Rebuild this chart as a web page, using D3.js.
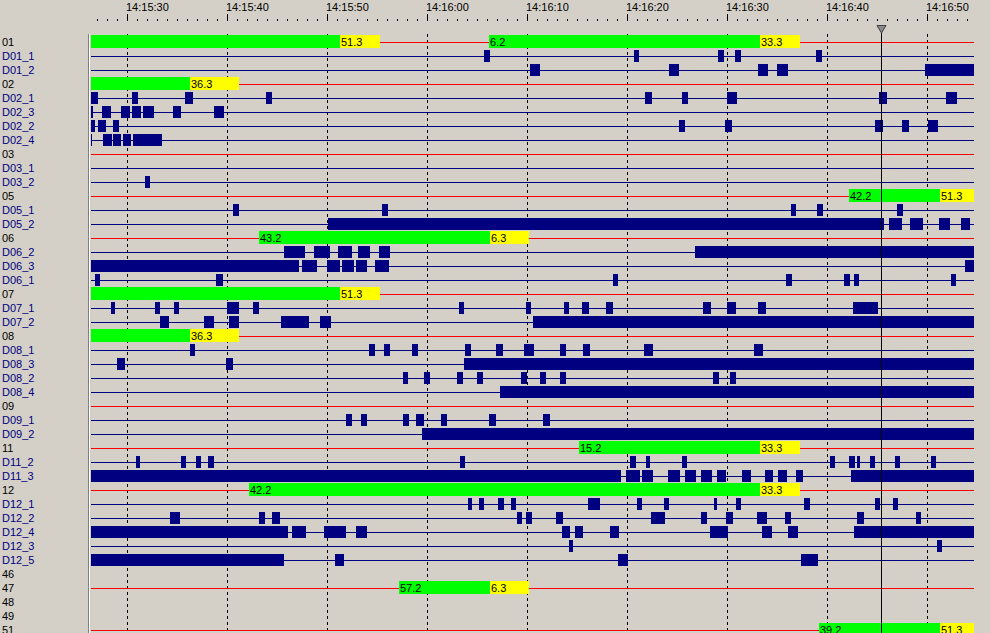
<!DOCTYPE html>
<meta charset="utf-8">
<script src="https://d3js.org/d3.v7.min.js"></script>
<style type="text/css">
body { margin: 0; background: #d4d0c8; }
svg { display: block; font-family: "Liberation Sans", Arial, sans-serif; font-size: 11px; }
.axis path { display: none; }
.axis line { stroke: #000; shape-rendering: crispEdges; }
.axis text { fill: #000; font-size: 11px; font-family: "Liberation Sans", Arial, sans-serif; }
.grid line { stroke: #000; stroke-dasharray: 3,3; shape-rendering: crispEdges; }
.rowline { shape-rendering: crispEdges; }
rect { shape-rendering: crispEdges; }
</style>
<body></body>
<script>

// rows, top to bottom
var rows = ['01','D01_1','D01_2','02','D02_1','D02_3','D02_2','D02_4','03','D03_1','D03_2',
  '05','D05_1','D05_2','06','D06_2','D06_3','D06_1','07','D07_1','D07_2',
  '08','D08_1','D08_3','D08_2','D08_4','09','D09_1','D09_2','11','D11_2','D11_3',
  '12','D12_1','D12_2','D12_4','D12_3','D12_5','46','47','48','49','51'];
var unusedRows = ['46','48','49'];

// seconds after 14:15:00
var viewStart = 26.4, viewEnd = 114.7, cursorAt = 105.4;

// group bars: [green start, yellow start, yellow end]
var g01 = [[20, 51.3, 55.3], [66.2, 93.3, 97.3]];
var g02 = [[20, 36.3, 41.2]];
var g05 = [[102.2, 111.3, 116]];
var g06 = [[43.2, 66.3, 70.2]];
var g07 = [[20, 51.3, 55.3]];
var g08 = [[20, 36.3, 41.2]];
var g11 = [[75.2, 93.3, 97.3]];
var g12 = [[42.2, 93.3, 97.3]];
var g47 = [[57.2, 66.3, 70.2]];
var g51 = [[99.2, 111.3, 116]];

// signal blocks: [start, end]
var D01_1 = [[65.7,66.3],[80.7,81.2],[89.1,89.7],[90.8,91.4],[98.9,99.5]];
var D01_2 = [[70.3,71.3],[84.2,85.2],[93.1,94.1],[95.0,96.1],[109.8,116]];
var D02_1 = [[26.4,27.1],[30.5,31.1],[35.8,36.6],[43.9,44.5],[81.8,82.5],[85.5,86.1],[90.0,91.0],[105.2,106.0],[111.9,113.0]];
var D02_3 = [[26.4,26.6],[27.5,28.4],[29.4,30.3],[30.5,31.4],[31.6,32.7],[34.6,35.4],[38.7,39.7]];
var D02_2 = [[26.4,26.8],[27.1,27.9],[28.6,29.2],[85.2,85.8],[89.8,90.5],[104.8,105.6],[107.5,108.2],[110.1,111.1]];
var D02_4 = [[26.4,26.5],[27.6,28.5],[28.6,29.4],[29.6,30.4],[30.6,33.5]];
var D03_1 = [];
var D03_2 = [[31.8,32.3]];
var D05_1 = [[40.6,41.2],[55.5,56.1],[96.4,96.9],[99.0,99.6],[107.0,107.6]];
var D05_2 = [[50.1,105.7],[106.2,107.5],[108.3,109.6],[111.2,112.3],[113.4,114.3]];
var D06_2 = [[45.7,47.8],[48.7,50.3],[51.1,52.5],[53.1,54.3],[55.2,56.3],[86.8,116]];
var D06_3 = [[20,47.2],[47.5,49.0],[50.0,51.3],[51.5,52.7],[52.9,54.0],[54.8,56.2],[113.8,116]];
var D06_1 = [[26.8,27.3],[38.9,39.6],[78.6,79.1],[95.9,96.5],[101.7,102.3],[102.7,103.2],[112.4,112.9]];
var D07_1 = [[28.4,28.8],[32.8,33.3],[34.7,35.2],[40.0,41.2],[42.6,43.2],[63.2,63.7],[69.9,70.4],[73.7,74.2],
  [75.5,76.2],[77.9,78.6],[87.6,88.4],[90.0,90.9],[93.1,93.9],[102.6,105.1]];
var D07_2 = [[33.3,34.2],[37.7,38.7],[40.2,41.2],[45.4,48.2],[49.3,50.4],[70.6,116]];
var D08_1 = [[36.3,36.8],[54.2,54.8],[55.7,56.3],[58.5,59.1],[63.8,64.4],[66.9,67.6],[69.7,70.7],[73.3,73.9],
  [75.6,76.3],[81.7,82.6],[92.7,93.6]];
var D08_3 = [[29.0,29.8],[39.9,40.6],[63.7,116]];
var D08_2 = [[57.6,58.1],[59.7,60.3],[63.0,63.6],[65.0,65.6],[69.4,70.0],[71.3,71.9],[73.3,73.9],[88.6,89.2],[90.3,90.9]];
var D08_4 = [[67.3,116]];
var D09_1 = [[51.9,52.5],[53.4,54.0],[57.6,58.2],[58.9,59.7],[61.4,62.0],[66.2,66.9],[71.6,72.3]];
var D09_2 = [[59.5,116]];
var D11_2 = [[30.9,31.3],[35.4,35.9],[36.9,37.4],[38.1,38.7],[63.3,63.8],[80.3,80.9],[81.9,82.3],[85.5,86.0],
  [100.3,100.8],[102.2,102.8],[103.0,103.3],[104.3,104.8],[106.8,107.3],[110.4,110.9]];
var D11_3 = [[20,79.4],[79.9,81.3],[81.5,82.6],[84.1,85.3],[85.8,86.9],[87.4,88.5],[89.0,89.9],[91.5,92.4],
  [93.8,94.6],[95.1,96.0],[96.9,97.6],[102.4,116]];
var D12_1 = [[64.1,64.5],[65.2,65.7],[67.1,67.7],[68.4,68.9],[76.1,77.3],[81.0,81.5],[83.7,84.2],[88.7,89.0],
  [90.9,91.4],[97.7,98.3],[104.8,105.3],[106.6,107.1]];
var D12_2 = [[34.3,35.3],[43.2,43.8],[44.5,45.3],[69.0,69.5],[69.9,70.5],[72.9,73.6],[82.4,83.8],[87.4,88.0],
  [89.9,90.6],[93.0,94.0],[95.8,96.4],[103.0,103.7],[108.9,109.4]];
var D12_4 = [[20,46.1],[46.5,47.9],[49.7,51.9],[52.9,54.0],[73.5,74.3],[74.8,75.6],[78.3,79.2],[88.3,90.1],
  [93.5,94.5],[96.1,97.1],[102.7,116]];
var D12_3 = [[74.2,74.6],[111.0,111.5]];
var D12_5 = [[20,45.7],[50.8,51.7],[79.1,80.1],[97.4,99.1]];

var groupBars = {'01': g01, '02': g02, '05': g05, '06': g06, '07': g07, '08': g08,
  '11': g11, '12': g12, '47': g47, '51': g51};
var blocks = {D01_1: D01_1, D01_2: D01_2, D02_1: D02_1, D02_3: D02_3, D02_2: D02_2, D02_4: D02_4,
  D03_1: D03_1, D03_2: D03_2, D05_1: D05_1, D05_2: D05_2, D06_2: D06_2, D06_3: D06_3, D06_1: D06_1,
  D07_1: D07_1, D07_2: D07_2, D08_1: D08_1, D08_3: D08_3, D08_2: D08_2, D08_4: D08_4,
  D09_1: D09_1, D09_2: D09_2, D11_2: D11_2, D11_3: D11_3, D12_1: D12_1, D12_2: D12_2,
  D12_4: D12_4, D12_3: D12_3, D12_5: D12_5};

var base = new Date(2000, 0, 1, 14, 15, 0);
function toTime(s) { return new Date(base.getTime() + s * 1000); }

var width = 990, height = 633;
var left = 91, right = 974;

var svg = d3.select('body').append('svg')
  .attr('width', width)
  .attr('height', height);

svg.append('rect').attr('width', width).attr('height', height).attr('fill', '#d4d0c8');

var x = d3.scaleTime()
  .domain([toTime(viewStart), toTime(viewEnd)])
  .range([left, right]);

var y = d3.scalePoint()
  .domain(rows)
  .range([42, 630]);

var px = function(s) { return Math.round(x(toTime(s))); };

svg.append('defs').append('clipPath').attr('id', 'plotClip')
  .append('rect').attr('x', left).attr('y', 0).attr('width', right - left).attr('height', height);

// header ticks
var minorAxis = d3.axisTop(x)
  .ticks(d3.timeSecond.every(1))
  .tickSize(2)
  .tickFormat('');
svg.append('g').attr('class', 'axis').attr('transform', 'translate(0,21)').call(minorAxis);

var majorAxis = d3.axisTop(x)
  .ticks(d3.timeSecond.every(10))
  .tickSize(7)
  .tickFormat(d3.timeFormat('%H:%M:%S'));
var gMajor = svg.append('g').attr('class', 'axis').attr('transform', 'translate(0,21)').call(majorAxis);
gMajor.selectAll('text').attr('text-anchor', 'start').attr('x', -1.5);

// left divider
svg.append('line').attr('x1', 88.5).attr('x2', 88.5).attr('y1', 34).attr('y2', height).attr('stroke', '#808080');
svg.append('line').attr('x1', 89.5).attr('x2', 89.5).attr('y1', 34).attr('y2', height).attr('stroke', '#ffffff');

// dashed grid
var grid = svg.append('g').attr('class', 'grid');
grid.selectAll('line')
  .data(x.ticks(d3.timeSecond.every(10)))
  .enter().append('line')
  .attr('x1', d => Math.round(x(d)) + 0.5)
  .attr('x2', d => Math.round(x(d)) + 0.5)
  .attr('y1', 34)
  .attr('y2', height);

// row labels
svg.append('g').selectAll('text')
  .data(rows).enter().append('text')
  .attr('x', 2)
  .attr('y', d => y(d))
  .attr('dy', 4)
  .attr('fill', d => d[0] == 'D' ? '#000080' : '#000')
  .text(d => d);

var plot = svg.append('g').attr('clip-path', 'url(#plotClip)');

// row lines
plot.selectAll('.rowline')
  .data(rows.filter(r => unusedRows.indexOf(r) < 0))
  .enter().append('line')
  .attr('class', 'rowline')
  .attr('x1', left)
  .attr('x2', right)
  .attr('y1', d => y(d) + 0.5)
  .attr('y2', d => y(d) + 0.5)
  .attr('stroke', d => d[0] == 'D' ? '#000080' : '#ff0000');

// signal blocks
rows.filter(r => blocks[r]).forEach(function(r) {
  plot.selectAll(null)
    .data(blocks[r]).enter().append('rect')
    .attr('x', d => px(d[0]))
    .attr('y', y(r) - 6)
    .attr('width', d => Math.max(1, px(d[1]) - px(d[0])))
    .attr('height', 12)
    .attr('fill', '#000080');
});

// group bars
var fmt = d3.format('.1f');
rows.filter(r => groupBars[r]).forEach(function(r) {
  var g = plot.append('g').selectAll(null)
    .data(groupBars[r]).enter().append('g');

  g.append('rect')
    .attr('x', d => px(d[0]))
    .attr('y', y(r) - 7)
    .attr('width', d => px(d[1]) - px(d[0]))
    .attr('height', 13)
    .attr('fill', '#00ff00');

  g.append('rect')
    .attr('x', d => px(d[1]))
    .attr('y', y(r) - 7)
    .attr('width', d => px(d[2]) - px(d[1]))
    .attr('height', 13)
    .attr('fill', '#ffff00');

  g.filter(d => d[0] >= viewStart).append('text')
    .attr('x', d => px(d[0]) + 1)
    .attr('y', y(r) + 4)
    .attr('fill', '#000')
    .text(d => fmt(d[0] % 60));

  g.append('text')
    .attr('x', d => px(d[1]) + 1)
    .attr('y', y(r) + 4)
    .attr('fill', '#000')
    .text(d => fmt(d[1] % 60));
});

// cursor
var cx = px(cursorAt) + 0.5;
svg.append('line')
  .attr('x1', cx).attr('x2', cx)
  .attr('y1', 33).attr('y2', height)
  .attr('stroke', '#000')
  .attr('shape-rendering', 'crispEdges');
svg.append('path')
  .attr('d', 'M' + (cx - 4.5) + ',25.5 L' + (cx + 4.5) + ',25.5 L' + cx + ',33 Z')
  .attr('fill', '#8a8a8a')
  .attr('stroke', '#404040');

</script>
